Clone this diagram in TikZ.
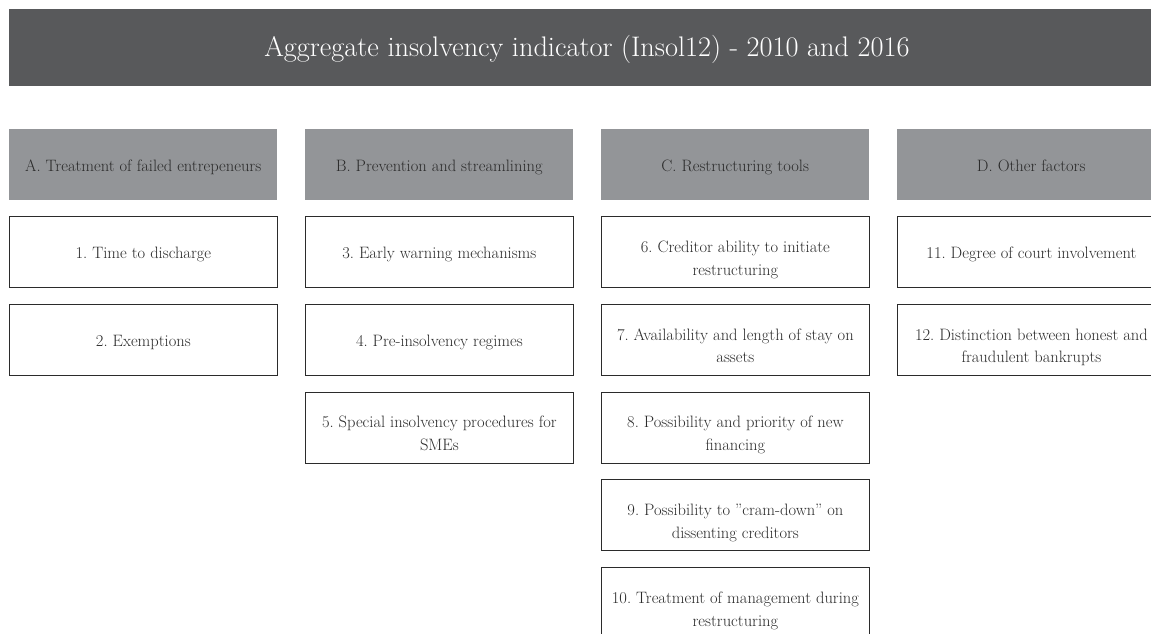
\documentclass[tikz,border=0pt]{standalone}
\usepackage{xcolor}
\definecolor{titlegray}{HTML}{58595B}
\definecolor{headgray}{HTML}{939598}
\definecolor{inkgray}{HTML}{2B2B2B}
\newcommand{\boxfont}{\fontsize{16.5}{22.7}\selectfont\frenchspacing
  \hyphenpenalty=10000\exhyphenpenalty=10000}
\begin{document}
\begin{tikzpicture}[x=1pt,y=-1pt,
  titlebar/.style={rectangle, fill=titlegray, anchor=north west,
    minimum width=1156pt, minimum height=77pt, inner sep=0pt},
  titletxt/.style={text=white, font=\fontsize{28.3}{34}\selectfont},
  headbox/.style={rectangle, fill=headgray, text=inkgray, anchor=north west,
    minimum width=268pt, minimum height=71pt, inner sep=0pt, font=\boxfont,
    text height=14pt, text depth=0pt},
  itembox/.style={rectangle, draw=inkgray, line width=0.8pt, fill=white,
    text=inkgray, anchor=north west, minimum width=268pt, minimum height=71pt,
    inner sep=0pt, text width=252pt, align=flush center, font=\boxfont},
  oneline/.style={itembox, text height=13pt, text depth=0pt},
  twoline/.style={itembox, text height=1pt, text depth=0pt},
]
\useasboundingbox (0,0) rectangle (1151,634);
\clip (0,0) rectangle (1151,634);

% column left edges and row tops
\def\colA{9}\def\colB{305}\def\colC{601}\def\colD{897}
\def\rowI{216}\def\rowII{303.75}\def\rowIII{391.5}\def\rowIV{479.25}\def\rowV{567}

\node[titlebar] (title) at (9,9) {};
\node[titletxt] (titletext) at (587,49)
  {Aggregate insolvency indicator (Insol12) - 2010 and 2016};

\node[headbox] (hA) at (\colA,129) {A. Treatment of failed entrepeneurs};
\node[headbox] (hB) at (\colB,129) {B. Prevention and streamlining};
\node[headbox] (hC) at (\colC,129) {C. Restructuring tools};
\node[headbox] (hD) at (\colD,129) {D. Other factors};

\node[oneline] (i1) at (\colA,\rowI) {1. Time to discharge};
\node[oneline] (i2) at (\colA,\rowII) {2. Exemptions};

\node[oneline] (i3) at (\colB,\rowI) {3. Early warning mechanisms};
\node[oneline] (i4) at (\colB,\rowII) {4. Pre-insolvency regimes};
\node[twoline] (i5) at (\colB,\rowIII) {5. Special insolvency procedures for SMEs};

\node[twoline] (i6) at (\colC,\rowI) {6. Creditor ability to initiate restructuring};
\node[twoline] (i7) at (\colC,\rowII) {7. Availability and length of stay on assets};
\node[twoline] (i8) at (\colC,\rowIII) {8. Possibility and priority of new financing};
\node[twoline] (i9) at (\colC,\rowIV) {9. Possibility to "cram-down" on dissenting creditors};
\node[twoline] (i10) at (\colC,\rowV) {10. Treatment of management during restructuring};

\node[oneline] (i11) at (\colD,\rowI) {11. Degree of court involvement};
\node[twoline] (i12) at (\colD,\rowII) {12. Distinction between honest and fraudulent bankrupts};
\end{tikzpicture}
\end{document}
